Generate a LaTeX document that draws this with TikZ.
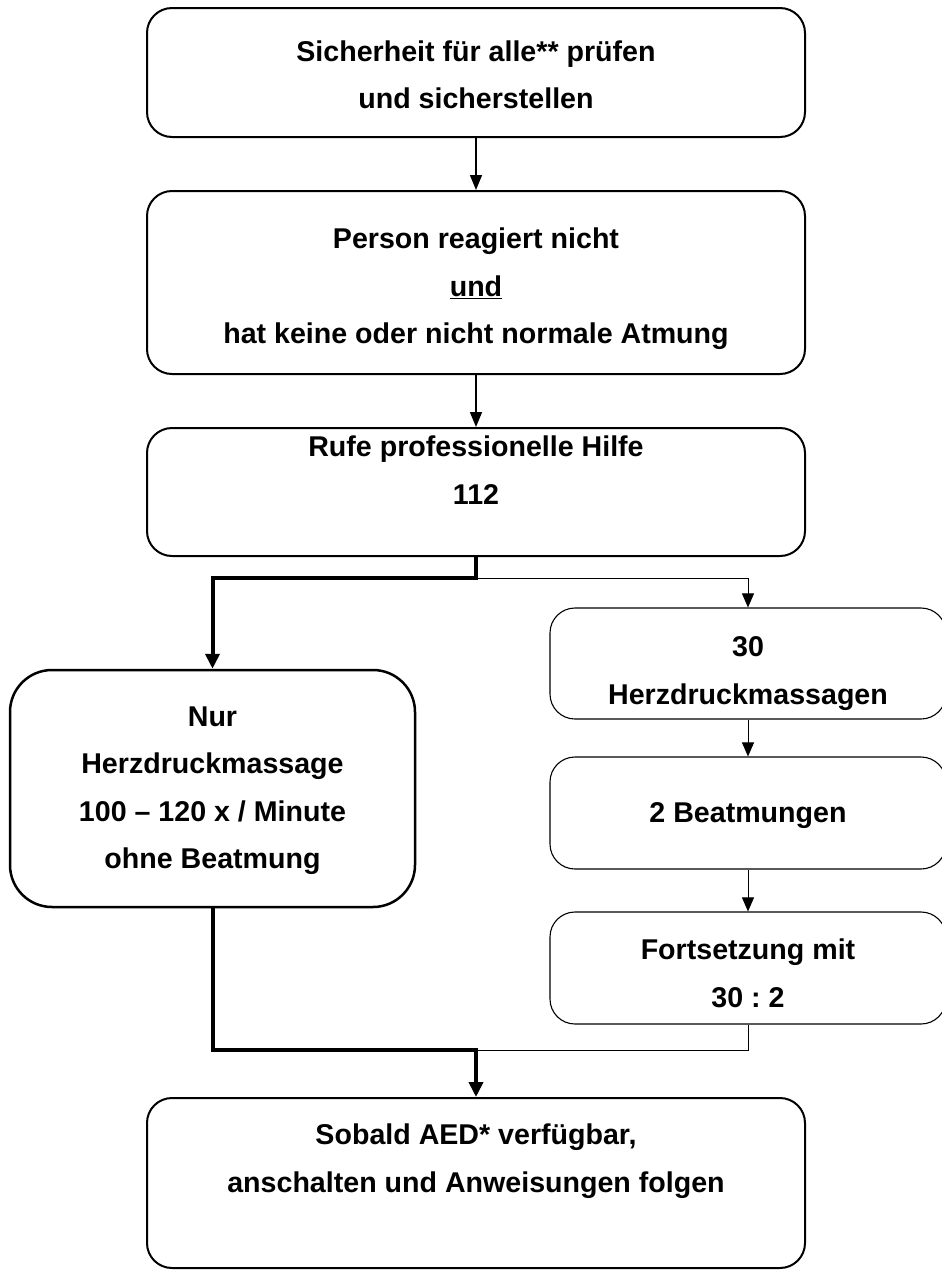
\documentclass[tikz,border=0pt]{standalone}
\usepackage{fontspec}
\setmainfont{Liberation Sans}
\usetikzlibrary{arrows.meta,calc}
\begin{document}
\frenchspacing
\begin{tikzpicture}[x=1pt,y=-1pt,
  box/.style={draw, rounded corners=25pt, inner sep=0pt, line width=2pt},
  bigbox/.style={box, rounded corners=42pt, line width=2.5pt},
  smallbox/.style={box, line width=1.1pt},
  txt/.style={align=center, inner sep=0pt, font=\bfseries\fontsize{28.6}{47.5}\selectfont},
  midarrow/.style={line width=1.5pt, -{Triangle[length=15pt,width=12pt]}},
  thinarrow/.style={line width=1pt, -{Triangle[length=14pt,width=12pt]}},
  thickarrow/.style={line width=4pt, -{Triangle[length=15pt,width=14pt]}},
  thinline/.style={line width=1pt}]
\useasboundingbox[fill=white] (0,0) rectangle (942,1270);

% boxes
\node[box, minimum width=658pt, minimum height=129pt] (b1) at (476,72.5) {};
\node[box, minimum width=658pt, minimum height=183pt] (b2) at (476,282.5) {};
\node[box, minimum width=658pt, minimum height=128pt] (b3) at (476,492) {};
\node[bigbox, minimum width=405pt, minimum height=237pt] (left) at (212.5,788.5) {};
\node[smallbox, minimum width=396pt, minimum height=111pt] (r1) at (748,663.5) {};
\node[smallbox, minimum width=396pt, minimum height=112pt] (r2) at (748,813) {};
\node[smallbox, minimum width=396pt, minimum height=112pt] (r3) at (748,968) {};
\node[box, minimum width=658pt, minimum height=170pt] (b7) at (476,1183) {};

% texts
\node[txt] (t1) at (476,75) {Sicherheit für alle** prüfen\\und sicherstellen};
\node[txt] (t2) at (476,289) {Person reagiert nicht\\\underline{und}\\hat keine oder nicht normale Atmung};
\node[txt] (t3) at (476,470) {Rufe professionelle Hilfe\\112};
\node[txt] (tl) at (212.5,790.5) {Nur\\Herzdruckmassage\\100 – 120 x / Minute\\ohne Beatmung};
\node[txt] (tr1) at (748,673.5) {30\\Herzdruckmassagen};
\node[txt] (tr2) at (748,816) {2 Beatmungen};
\node[txt] (tr3) at (748,973.5) {Fortsetzung mit\\30 : 2};
\node[txt] (t7) at (476,1161) {Sobald AED* verfügbar,\\anschalten und Anweisungen folgen};

\coordinate (j1) at ($(b3.south)+(0,21)$);
\coordinate (j2) at (476,1050);

\draw[midarrow] (b1) -- (b2);
\draw[midarrow] (b2) -- (b3);
\draw[thinarrow] (b3.south) |- (r1.north |- j1) -- (r1.north);
\draw[thickarrow] (b3.south) -- (j1) -| (left.north);
\draw[thinarrow] (r1) -- (r2);
\draw[thinarrow] (r2) -- (r3);
\draw[thinline] (r3.south) |- (j2);
\draw[thickarrow] (left.south) |- (j2) -- (b7.north);
\end{tikzpicture}
\end{document}
